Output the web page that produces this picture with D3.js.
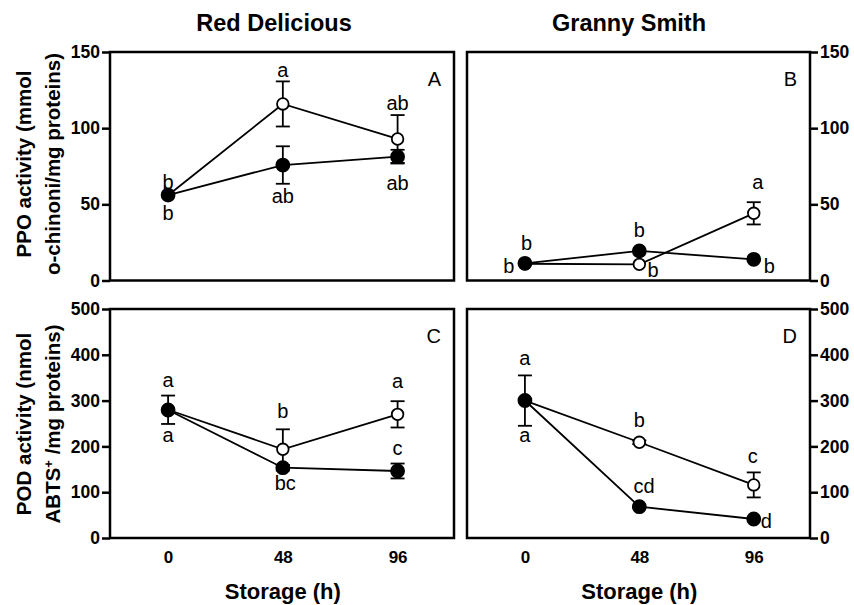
<!DOCTYPE html>
<html>
<head>
<meta charset="utf-8">
<script src="https://cdn.jsdelivr.net/npm/d3@7"></script>
<style>
body { margin: 0; background: #fff; }
svg text { font-family: "Liberation Sans", Arial, sans-serif; fill: #000; }
</style>
</head>
<body>
<div id="chart"></div>
<script>
// storage times (h)
const hours = [0, 48, 96];
const xTickLabels = ["0", "48", "96"];
const ppoTicks = [0, 50, 100, 150];
const podTicks = [0, 100, 200, 300, 400, 500];
const cultivars = ["Red Delicious", "Granny Smith"];
const panelLetters = ["A", "B", "C", "D"];

// PPO - Red Delicious (A)
const ppoRedOpen = [56, 115.9, 92.9];
const ppoRedOpenErr = [0, 14.8, 15.7];
const ppoRedFilled = [56.1, 75.8, 81.3];
const ppoRedFilledErr = [0, 12.3, 4.5];

// PPO - Granny Smith (B)
const ppoGrannyOpen = [11, 10.6, 44.1];
const ppoGrannyOpenErr = [0, 0, 7.3];
const ppoGrannyFilled = [11.3, 19.4, 13.9];
const ppoGrannyFilledErr = [0, 0, 0];

// POD - Red Delicious (C)
const podRedOpen = [280, 193.7, 270];
const podRedOpenErr = [31, 43.6, 28.7];
const podRedFilled = [279.5, 153.5, 146.3];
const podRedFilledErr = [0, 6, 16.3];

// POD - Granny Smith (D)
const podGrannyOpen = [300, 209, 115.9];
const podGrannyOpenErr = [55, 4, 27.3];
const podGrannyFilled = [300.2, 68.4, 41.5];
const podGrannyFilledErr = [0, 0, 0];

// significance letters: [hour, value at letter baseline, text]
const lettersA = [[0, 59.9, "b"], [0, 39.7, "b"], [48, 133.8, "a"], [48, 50.7, "ab"], [96, 111.9, "ab"], [96, 59.4, "ab"]];
const lettersB = [[0.7, 20.0, "b"], [-6.8, 4.7, "b"], [48, 28.8, "b"], [53.8, 2.5, "b"], [97.7, 59.9, "a"], [102.5, 5.1, "b"]];
const lettersC = [[0, 330.4, "a"], [0, 210.3, "a"], [48, 261.3, "b"], [49, 104.8, "bc"], [96, 326.8, "a"], [96, 181.2, "c"]];
const lettersD = [[0, 377.7, "a"], [0, 210.3, "a"], [48, 243.2, "b"], [50, 98.9, "cd"], [95.6, 163.1, "c"], [101.3, 21.2, "d"]];

const width = 854, height = 605;

const svg = d3.select("#chart")
  .append("svg")
  .attr("width", width)
  .attr("height", height);

var panels = [
  {left: 110, right: 454, top: 52, bottom: 280.5, ymax: 150, ticks: ppoTicks, side: "left", xlabels: false,
   open: ppoRedOpen, openErr: ppoRedOpenErr, filled: ppoRedFilled, filledErr: ppoRedFilledErr, letters: lettersA},
  {left: 467, right: 810, top: 52, bottom: 280.5, ymax: 150, ticks: ppoTicks, side: "right", xlabels: false,
   open: ppoGrannyOpen, openErr: ppoGrannyOpenErr, filled: ppoGrannyFilled, filledErr: ppoGrannyFilledErr, letters: lettersB},
  {left: 110, right: 454, top: 309, bottom: 538, ymax: 500, ticks: podTicks, side: "left", xlabels: true,
   open: podRedOpen, openErr: podRedOpenErr, filled: podRedFilled, filledErr: podRedFilledErr, letters: lettersC},
  {left: 467, right: 810, top: 309, bottom: 538, ymax: 500, ticks: podTicks, side: "right", xlabels: true,
   open: podGrannyOpen, openErr: podGrannyOpenErr, filled: podGrannyFilled, filledErr: podGrannyFilledErr, letters: lettersD}
];

panels.forEach(function(p, i) { drawPanel(p, panelLetters[i]); });

function drawPanel(p, letter) {
  const x = d3.scaleLinear().domain([-24.3, 119.6]).range([p.left, p.right]);
  const y = d3.scaleLinear().domain([0, p.ymax]).range([p.bottom, p.top]);
  const g = svg.append("g");

  // y axis with outside ticks
  const yAxis = (p.side == "left" ? d3.axisLeft(y) : d3.axisRight(y))
    .tickValues(p.ticks)
    .tickSize(8)
    .tickPadding(2);
  const ya = g.append("g")
    .attr("transform", "translate(" + (p.side == "left" ? p.left : p.right) + ",0)")
    .call(yAxis);
  ya.select(".domain").remove();
  ya.selectAll("line").attr("stroke", "#000").attr("stroke-width", 2.5);
  ya.selectAll("text")
    .attr("fill", "#000")
    .style("font-size", "17.5px")
    .style("font-weight", "bold");

  if (p.xlabels) {
    const xa = g.append("g")
      .attr("transform", "translate(0," + p.bottom + ")")
      .call(d3.axisBottom(x).tickValues(hours).tickFormat(function(d, j) { return xTickLabels[j]; })
        .tickSize(0).tickPadding(13));
    xa.select(".domain").remove();
    xa.selectAll("text")
      .attr("fill", "#000")
      .style("font-size", "17px")
      .style("font-weight", "bold");
    g.append("text")
      .attr("x", x(48))
      .attr("y", 599)
      .attr("text-anchor", "middle")
      .style("font-size", "22px")
      .style("font-weight", "bold")
      .text("Storage (h)");
  }

  // frame
  g.append("rect")
    .attr("x", p.left)
    .attr("y", p.top)
    .attr("width", p.right - p.left)
    .attr("height", p.bottom - p.top)
    .attr("fill", "none")
    .attr("stroke", "#000")
    .attr("stroke-width", 2.5);

  drawSeries(g, x, y, p.open, p.openErr, false);
  drawSeries(g, x, y, p.filled, p.filledErr, true);

  g.selectAll("text.sig")
    .data(p.letters)
    .join("text")
      .attr("class", "sig")
      .attr("x", function(d) { return x(d[0]); })
      .attr("y", function(d) { return y(d[1]); })
      .attr("text-anchor", "middle")
      .style("font-size", "20px")
      .text(function(d) { return d[2]; });

  g.append("text")
    .attr("x", p.right - 13)
    .attr("y", p.top + 34)
    .attr("text-anchor", "end")
    .style("font-size", "20px")
    .text(letter);
}

function drawSeries(g, x, y, vals, errs, filled) {
  const pts = hours.map(function(h, j) { return {h: h, v: vals[j], e: errs[j]}; });
  const line = d3.line().x(function(d) { return x(d.h); }).y(function(d) { return y(d.v); });

  g.append("path")
    .datum(pts)
    .attr("d", line)
    .attr("fill", "none")
    .attr("stroke", "#000")
    .attr("stroke-width", 1.8);

  const eb = g.append("g")
    .attr("stroke", "#000")
    .attr("stroke-width", 1.8);
  pts.filter(function(d) { return d.e > 0; }).forEach(function(d) {
    const cx = x(d.h);
    eb.append("line").attr("x1", cx).attr("x2", cx).attr("y1", y(d.v - d.e)).attr("y2", y(d.v + d.e));
    eb.append("line").attr("x1", cx - 7).attr("x2", cx + 7).attr("y1", y(d.v - d.e)).attr("y2", y(d.v - d.e));
    eb.append("line").attr("x1", cx - 7).attr("x2", cx + 7).attr("y1", y(d.v + d.e)).attr("y2", y(d.v + d.e));
  });

  g.append("g")
    .selectAll("circle")
    .data(pts)
    .join("circle")
      .attr("cx", function(d) { return x(d.h); })
      .attr("cy", function(d) { return y(d.v); })
      .attr("r", filled ? 6.5 : 5.8)
      .attr("fill", filled ? "#000" : "#fff")
      .attr("stroke", "#000")
      .attr("stroke-width", 1.8);
}

// column titles
svg.selectAll("text.title")
  .data(cultivars)
  .join("text")
    .attr("class", "title")
    .attr("x", function(d, i) { return i == 0 ? 274 : 629; })
    .attr("y", 31)
    .attr("text-anchor", "middle")
    .style("font-size", "23.5px")
    .style("font-weight", "bold")
    .text(function(d) { return d; });

// y axis titles
function yTitle(cy, line1, line2) {
  const t = svg.append("g").attr("transform", "translate(0," + cy + ")");
  t.append("text")
    .attr("transform", "translate(31,0) rotate(-90)")
    .attr("text-anchor", "middle")
    .style("font-size", "20.5px")
    .style("font-weight", "bold")
    .text(line1);
  return t.append("text")
    .attr("transform", "translate(60,0) rotate(-90)")
    .attr("text-anchor", "middle")
    .style("font-size", "20.5px")
    .style("font-weight", "bold")
    .text(line2);
}
yTitle(164, "PPO activity (mmol", "o-chinoni/mg proteins)");
const pod2 = yTitle(424, "POD activity (nmol", "");
pod2.append("tspan").text("ABTS");
pod2.append("tspan").attr("baseline-shift", "super").style("font-size", "13px").text("+");
pod2.append("tspan").text(" /mg proteins)");
</script>
</body>
</html>
